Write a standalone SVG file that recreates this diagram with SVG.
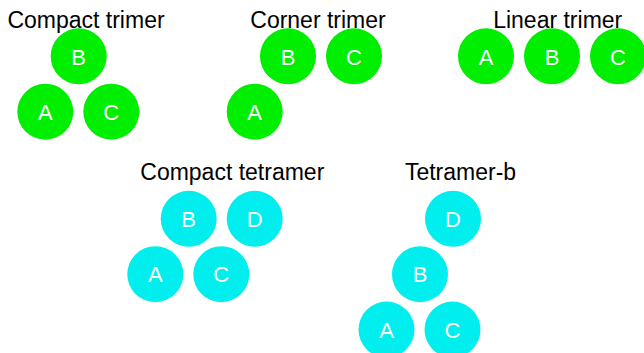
<svg xmlns="http://www.w3.org/2000/svg" width="644" height="353" viewBox="0 0 644 353">
  <style>
    .title { font-family: "Liberation Sans", Arial, sans-serif; font-size: 23px; fill: #000; text-anchor: middle; }
    .lbl { font-family: "Liberation Sans", Arial, sans-serif; font-size: 22px; fill: #fff; text-anchor: middle; dominant-baseline: central; }
    .tri { fill: #00ee00; }
    .tet { fill: #00eeee; }
  </style>
  <rect width="644" height="353" fill="#fff"/>

  <!-- Compact trimer -->
  <g id="compact-trimer">
    <text class="title" x="86" y="28">Compact trimer</text>
    <circle class="tri" cx="78.7" cy="56.3" r="28"/><text class="lbl" x="78.7" y="57">B</text>
    <circle class="tri" cx="45.3" cy="111.7" r="28"/><text class="lbl" x="45.3" y="112.4">A</text>
    <circle class="tri" cx="111.3" cy="111.7" r="28"/><text class="lbl" x="111.3" y="112.4">C</text>
  </g>

  <!-- Corner trimer -->
  <g id="corner-trimer">
    <text class="title" x="318" y="28">Corner trimer</text>
    <circle class="tri" cx="288" cy="56.3" r="28"/><text class="lbl" x="288" y="57">B</text>
    <circle class="tri" cx="354" cy="56.3" r="28"/><text class="lbl" x="354" y="57">C</text>
    <circle class="tri" cx="254.7" cy="111.7" r="28"/><text class="lbl" x="254.7" y="112.4">A</text>
  </g>

  <!-- Linear trimer -->
  <g id="linear-trimer">
    <text class="title" x="557.7" y="28">Linear trimer</text>
    <circle class="tri" cx="486" cy="56.3" r="28"/><text class="lbl" x="486" y="57">A</text>
    <circle class="tri" cx="552" cy="56.3" r="28"/><text class="lbl" x="552" y="57">B</text>
    <circle class="tri" cx="618" cy="56.3" r="28"/><text class="lbl" x="618" y="57">C</text>
  </g>

  <!-- Compact tetramer -->
  <g id="compact-tetramer">
    <text class="title" x="232.3" y="179.5">Compact tetramer</text>
    <circle class="tet" cx="188.7" cy="218.8" r="28"/><text class="lbl" x="188.7" y="219.5">B</text>
    <circle class="tet" cx="254.7" cy="218.8" r="28"/><text class="lbl" x="254.7" y="219.5">D</text>
    <circle class="tet" cx="155.3" cy="274.2" r="28"/><text class="lbl" x="155.3" y="274.9">A</text>
    <circle class="tet" cx="221.3" cy="274.2" r="28"/><text class="lbl" x="221.3" y="274.9">C</text>
  </g>

  <!-- Tetramer-b -->
  <g id="tetramer-b">
    <text class="title" x="460.5" y="180">Tetramer-b</text>
    <circle class="tet" cx="453" cy="218.8" r="28"/><text class="lbl" x="453" y="219.5">D</text>
    <circle class="tet" cx="420" cy="274.2" r="28"/><text class="lbl" x="420" y="274.9">B</text>
    <circle class="tet" cx="386.5" cy="329.6" r="28"/><text class="lbl" x="386.5" y="330.3">A</text>
    <circle class="tet" cx="452.5" cy="329.6" r="28"/><text class="lbl" x="452.5" y="330.3">C</text>
  </g>

  <g id="connectors"/>
</svg>
